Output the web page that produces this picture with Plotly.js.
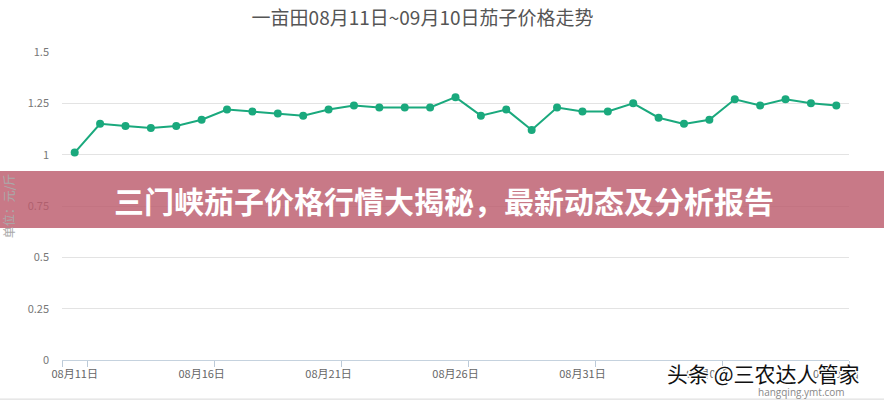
<!DOCTYPE html>
<html>
<head>
<meta charset="utf-8">
<script src="https://cdn.plot.ly/plotly-3.0.1.min.js"></script>
<style>html,body{margin:0;padding:0;background:#fff;}#chart{width:884px;height:400px;}</style>
</head>
<body>
<div id="chart"></div>
<script>
const dates = ["08月11日","08月12日","08月13日","08月14日","08月15日","08月16日","08月17日","08月18日","08月19日","08月20日",
  "08月21日","08月22日","08月23日","08月24日","08月25日","08月26日","08月27日","08月28日","08月29日","08月30日",
  "08月31日","09月01日","09月02日","09月03日","09月04日","09月05日","09月06日","09月07日","09月08日","09月09日","09月10日"];
const prices = [1.01,1.15,1.14,1.13,1.14,1.17,1.22,1.21,1.20,1.19,
  1.22,1.24,1.23,1.23,1.23,1.28,1.19,1.22,1.12,1.23,
  1.21,1.21,1.25,1.18,1.15,1.17,1.27,1.24,1.27,1.25,1.24];
const tickLabels = ["08月11日","08月16日","08月21日","08月26日","08月31日","09月05日","09月10日"];
const yTicks = [0,0.25,0.5,0.75,1,1.25,1.5];
const boundaryTicks = [-0.5,0.5,5.5,10.5,15.5,20.5,25.5,30.5];

const cjk = '"Noto Sans CJK SC", "Noto Sans", sans-serif';
const green = '#1aa97d';

const traces = [{
  type: 'scatter', mode: 'lines+markers',
  x: dates, y: prices,
  line: {color: green, width: 2},
  marker: {color: green, size: 8},
  showlegend: false, hoverinfo: 'x+y'
}, {
  type: 'scatter', mode: 'none', xaxis: 'x2', yaxis: 'y',
  x: boundaryTicks, y: boundaryTicks.map(() => null),
  showlegend: false, hoverinfo: 'skip'
}];

const layout = {
  width: 884, height: 400,
  margin: {l: 62, r: 35, t: 52, b: 40},
  paper_bgcolor: '#fff', plot_bgcolor: '#fff',
  title: {text: '一亩田08月11日~09月10日茄子价格走势', x: 0.478, xanchor: 'center', y: 0.955, yanchor: 'middle',
    font: {family: cjk, size: 19, color: '#555'}},
  xaxis: {
    type: 'category', categoryorder: 'array', categoryarray: dates,
    range: [-0.5, 30.5], tickvals: tickLabels, ticktext: tickLabels,
    ticks: '', showgrid: false, zeroline: false,
    showline: true, linecolor: '#c5d2de', linewidth: 1,
    tickfont: {family: cjk, size: 11, color: '#666'}, ticklabelstandoff: 4, fixedrange: true
  },
  xaxis2: {
    overlaying: 'x', anchor: 'y', side: 'bottom', type: 'linear', range: [-0.5, 30.5],
    tickmode: 'array', tickvals: boundaryTicks, showticklabels: false,
    ticks: 'outside', ticklen: 6, tickcolor: '#bccad8', tickwidth: 1,
    showgrid: false, zeroline: false, showline: false
  },
  yaxis: {
    range: [0, 1.5], tickmode: 'array', tickvals: yTicks,
    showgrid: true, gridcolor: '#e3e3e3', gridwidth: 1, zeroline: false, showline: false,
    ticks: '', tickfont: {family: cjk, size: 11, color: '#777'}, ticklabelstandoff: 12,
    title: {text: '单位：元/斤', font: {family: cjk, size: 12, color: '#aaa'}, standoff: 10}
  },
  shapes: [
    {type: 'rect', xref: 'paper', yref: 'paper', x0: -0.1, x1: 1.1, y0: 0.4286, y1: 0.6136,
      fillcolor: 'rgba(188,92,108,0.82)', line: {width: 0}, layer: 'above'},
    {type: 'line', xref: 'paper', yref: 'paper', x0: -0.1, x1: 1.1, y0: -0.127, y1: -0.127,
      line: {color: '#d8d8d8', width: 1}, layer: 'above'}
  ],
  annotations: [
    {text: '三门峡茄子价格行情大揭秘，最新动态及分析报告', xref: 'paper', yref: 'paper', x: 0.4858, y: 0.519,
      xanchor: 'center', yanchor: 'middle', showarrow: false,
      font: {family: cjk, size: 30, color: '#fff', weight: 700}},
    {text: '头条 @三农达人管家', xref: 'paper', yref: 'paper', x: 1.0165, y: -0.042,
      xanchor: 'right', yanchor: 'middle', showarrow: false,
      font: {family: cjk, size: 21, color: '#111',
        shadow: '1px 1px 0 #fff, -1px -1px 0 #fff, 1px -1px 0 #fff, -1px 1px 0 #fff, 2px 0 0 #fff, -2px 0 0 #fff'}},
    {text: 'hangqing.ymt.com', xref: 'paper', yref: 'paper', x: 0.998, y: -0.104,
      xanchor: 'right', yanchor: 'middle', showarrow: false,
      font: {family: '"Open Sans", sans-serif', size: 10, color: '#888'}}
  ]
};

Plotly.newPlot('chart', traces, layout, {displayModeBar: false, staticPlot: true});
</script>
</body>
</html>
